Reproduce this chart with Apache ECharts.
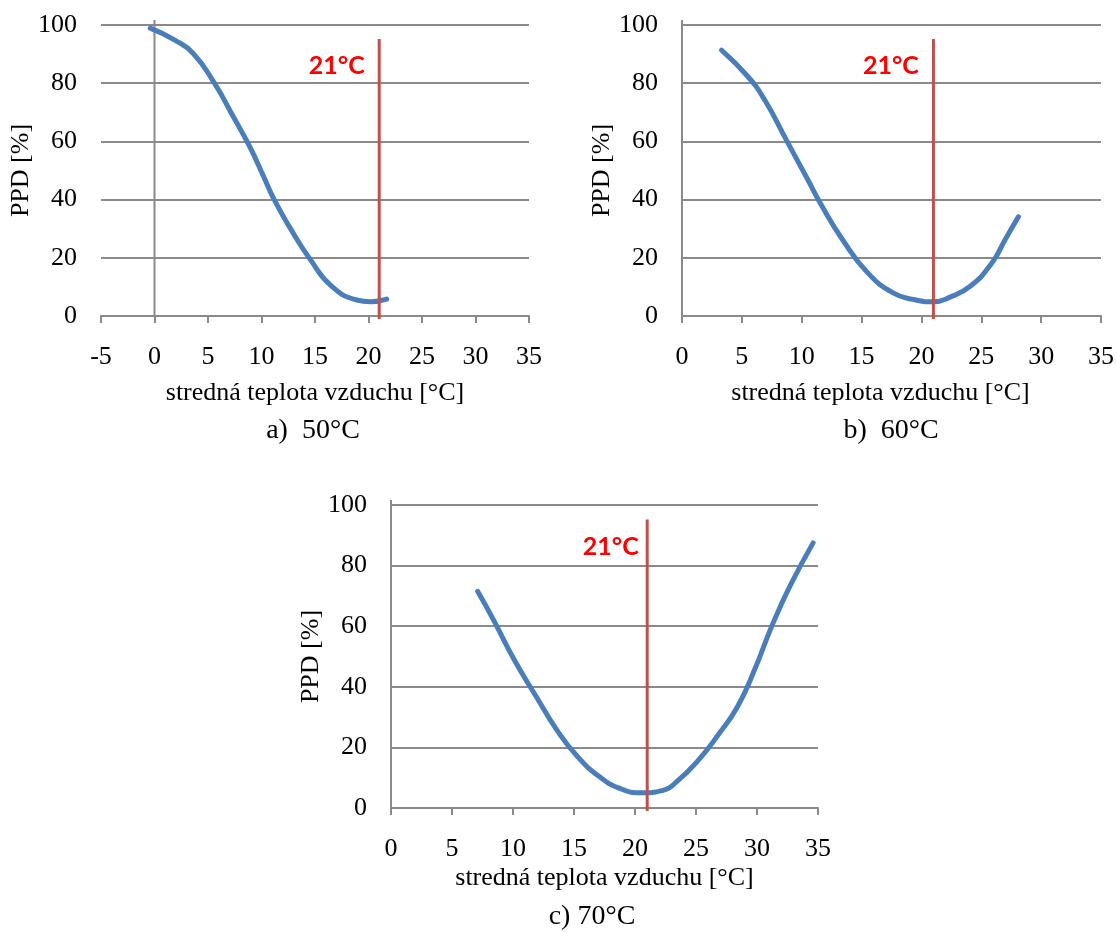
<!DOCTYPE html>
<html>
<head>
<meta charset="utf-8">
<script src="https://cdn.jsdelivr.net/npm/echarts@6/dist/echarts.min.js"></script>
<style>
  html, body { margin: 0; padding: 0; background: #ffffff; }
  #chart { width: 1117px; height: 932px; }
</style>
</head>
<body>
<div id="chart"></div>
<script>
// PPD (predicted percentage of dissatisfied) against mean air temperature,
// for heating water at 50 °C, 60 °C and 70 °C.

// a) 50 °C
const tempA = [-0.4, 1.9, 3.6, 5.6, 7.2, 8.9, 10.2, 11.2, 12.6, 14.6, 16.6, 18.9, 20.2, 21.7];
const ppdA  = [98.9, 94.8, 90.3, 80.0, 69.6, 58.2, 47.9, 39.9, 30.7, 19.2, 10.1, 5.5, 4.9, 5.8];

// b) 60 °C
const tempB = [3.3, 5.5, 6.9, 8.7, 10.5, 11.7, 13.4, 15.5, 17.6, 19.3, 21.0, 22.3, 24.1, 25.9, 27.0, 28.1];
const ppdB  = [91.4, 82.3, 74.3, 60.6, 46.9, 37.7, 26.3, 14.9, 8.0, 5.7, 4.9, 6.3, 10.3, 18.3, 26.3, 34.1];

// c) 70 °C
const tempC = [7.1, 8.4, 10.1, 11.9, 13.6, 15.3, 17.1, 18.8, 20.5, 22.3, 23.4, 25.2, 26.9, 28.4, 29.8, 31.2, 32.7, 34.6];
const ppdC  = [71.5, 62.1, 48.9, 36.8, 25.7, 16.9, 10.3, 6.4, 5.0, 5.8, 8.6, 15.8, 24.6, 33.4, 45.6, 59.9, 73.2, 87.5];

// reference air temperature marker
const REF_TEMP = 21;
const refSpan = [95.2, -1.0];   // PPD extent of the marker line
const refLabelLevel = 86;       // PPD level of the marker label

// axis ranges
const xMinA = -5, xMinBC = 0, xMax = 35, xStep = 5;
const yMin = 0, yMax = 100, yStep = 20;

const captions = ['a)  50°C', 'b)  60°C', 'c) 70°C'];
const xTitle = 'stredná teplota vzduchu [°C]';
const yTitle = 'PPD [%]';

const SERIF = '"Liberation Serif", "Times New Roman", serif';
const GRAY = '#8a8a8a';
const BLUE = '#4a7ebb';
const RED_LINE = '#c0504d';
const AXIS_OVERHANG_PX = 5;     // vertical axis runs a little past the top gridline

const panels = [
  { grid: { left: 101, top: 25, width: 428, height: 291 }, xMin: xMinA, t: tempA, p: ppdA,
    cap: [313, 431], xNameGap: 64, xNamePad: 0, yNameGap: 64, labelDist: 14 },
  { grid: { left: 682, top: 25, width: 421, height: 291 }, xMin: xMinBC, t: tempB, p: ppdB,
    cap: [891, 431], xNameGap: 64, xNamePad: 22, yNameGap: 64, labelDist: 14 },
  { grid: { left: 391, top: 505, width: 427, height: 303 }, xMin: xMinBC, t: tempC, p: ppdC,
    cap: [592, 917], xNameGap: 57, xNamePad: 0, yNameGap: 67, labelDist: 8 }
];

const grids = [], xAxes = [], yAxes = [], series = [], graphics = [];

panels.forEach((pn, i) => {
  grids.push(Object.assign({ containLabel: false }, pn.grid));

  xAxes.push({
    type: 'value', gridIndex: i, min: pn.xMin, max: xMax, interval: xStep,
    name: xTitle, nameLocation: 'middle', nameGap: pn.xNameGap,
    nameTextStyle: { fontFamily: SERIF, fontSize: 26, color: '#000', padding: [0, pn.xNamePad, 0, 0] },
    axisLine: { show: true, onZero: false, lineStyle: { color: GRAY, width: 2 } },
    axisTick: { show: true, length: 7, inside: false, lineStyle: { color: GRAY, width: 2 } },
    axisLabel: { margin: 28, fontFamily: SERIF, fontSize: 26, color: '#000' },
    splitLine: { show: false }
  });

  yAxes.push({
    type: 'value', gridIndex: i, min: yMin, max: yMax, interval: yStep,
    name: yTitle, nameLocation: 'middle', nameGap: pn.yNameGap, nameRotate: 90,
    nameTextStyle: { fontFamily: SERIF, fontSize: 26, color: '#000' },
    axisLine: { show: false, onZero: false },
    axisTick: { show: false },
    axisLabel: { margin: 24, fontFamily: SERIF, fontSize: 26, color: '#000' },
    splitLine: { show: true, lineStyle: { color: GRAY, width: 2 } }
  });

  // vertical axis drawn at 0 °C, slightly taller than the plot area
  const axisTop = yMax + AXIS_OVERHANG_PX / pn.grid.height * (yMax - yMin);
  series.push({
    type: 'line', xAxisIndex: i, yAxisIndex: i, clip: false, z: 1, silent: true,
    data: [[0, yMin], [0, axisTop]],
    showSymbol: false, symbol: 'none',
    lineStyle: { color: GRAY, width: 2 }
  });

  series.push({
    type: 'line', xAxisIndex: i, yAxisIndex: i,
    data: pn.t.map((x, k) => [x, pn.p[k]]),
    smooth: 0.5, showSymbol: false, symbol: 'none', z: 3,
    lineStyle: { color: BLUE, width: 5, cap: 'round', join: 'round' },
    silent: true
  });

  series.push({
    type: 'line', xAxisIndex: i, yAxisIndex: i, clip: false, z: 4, silent: true,
    data: refSpan.map(v => [REF_TEMP, v]),
    showSymbol: false, symbol: 'none',
    lineStyle: { color: RED_LINE, width: 3 },
    markPoint: {
      silent: true, symbol: 'circle', symbolSize: 1,
      itemStyle: { color: 'rgba(0,0,0,0)' },
      data: [{
        coord: [REF_TEMP, refLabelLevel],
        label: {
          show: true, position: 'left', distance: pn.labelDist,
          formatter: REF_TEMP + '°C',
          fontFamily: 'Lato, "Open Sans", sans-serif', fontWeight: 'bold',
          fontSize: 25, color: '#ff0000'
        }
      }]
    }
  });

  graphics.push({
    type: 'text', x: pn.cap[0], y: pn.cap[1],
    style: {
      text: captions[i], textAlign: 'center', textVerticalAlign: 'middle',
      fontFamily: SERIF, fontSize: 28, fill: '#000'
    }
  });
});

const chart = echarts.init(document.getElementById('chart'), null, { renderer: 'canvas' });
chart.setOption({
  backgroundColor: '#ffffff',
  animation: false,
  grid: grids,
  xAxis: xAxes,
  yAxis: yAxes,
  series: series,
  graphic: graphics
});
</script>
</body>
</html>
